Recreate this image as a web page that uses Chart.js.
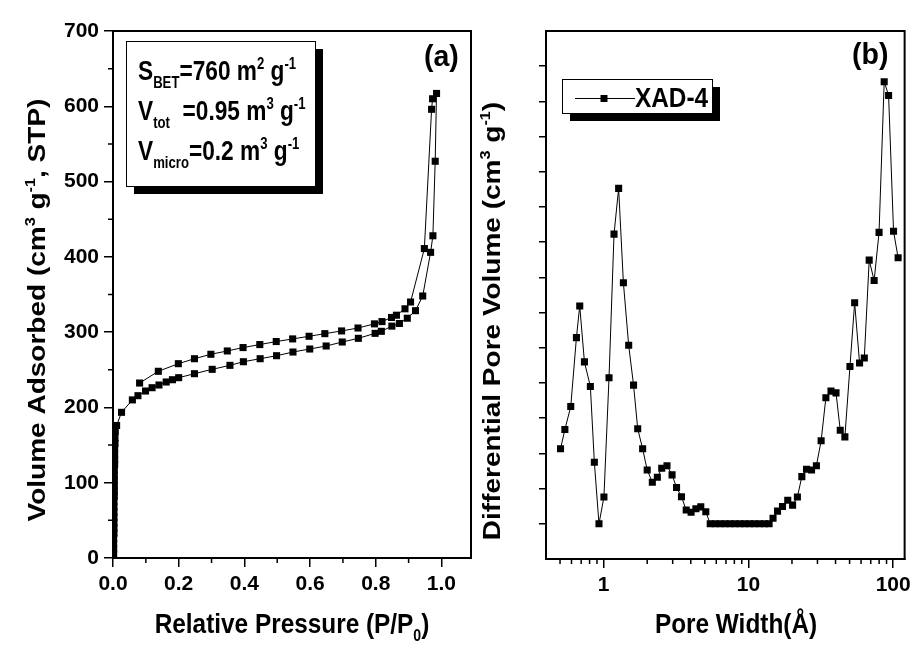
<!DOCTYPE html>
<html>
<head>
<meta charset="utf-8">
<script src="https://cdn.jsdelivr.net/npm/chart.js@4.4.1/dist/chart.umd.min.js"></script>
<style>
html,body{margin:0;background:#fff;}
#wrap{position:relative;width:916px;height:646px;overflow:hidden;background:#fff;}
canvas{position:absolute;top:0;}
</style>
</head>
<body>
<div id="wrap">
  <canvas id="iso" width="490" height="646" style="left:0"></canvas>
  <canvas id="psd" width="451" height="646" style="left:465px"></canvas>
</div>
<script>
// (a) изотерма: ветвь адсорбции
const adsP = [0.002,0.002,0.002,0.002,0.003,0.003,0.003,0.003,0.003,0.003,0.003,0.004,0.004,0.004,0.004,0.004,0.004,0.005,0.005,0.005,0.005,0.006,0.006,0.007,0.011,
  0.026,0.059,0.076,0.099,0.119,0.140,0.162,0.181,0.200,0.248,0.302,0.356,0.397,0.448,0.498,0.548,0.599,0.649,0.698,0.747,0.798,0.817,0.849,0.872,0.896,0.921,0.943,0.967,0.974,0.981,0.985];
const adsV = [6,12,19,26,33,40,47,54,61,68,75,82,89,96,103,110,117,124,131,138,145,152,159,168,176,
  193.5,210,215.6,221.8,226.2,229.8,233.8,236.8,239.5,244.8,250.6,255.9,260.7,264.7,268.7,273.6,277.6,281.6,286.9,291.8,298.4,301.1,308,311.5,318.5,328.5,348,406,428,527,617];
// ветвь десорбции
const desP = [0.985,0.973,0.970,0.948,0.906,0.889,0.863,0.848,0.819,0.796,0.746,0.696,0.645,0.597,0.547,0.497,0.447,0.396,0.348,0.298,0.248,0.199,0.138,0.081];
const desV = [617,610,596,411,340,331,322.5,319.5,314,311,305.5,301.6,298,294.5,291,287.5,283.5,279.5,275,270.6,264.7,258.1,248,232.4];

// (b) распределение пор по размерам
const poreW = [0.504,0.54,0.593,0.649,0.684,0.737,0.81,0.863,0.929,1.005,1.09,1.18,1.27,1.37,1.49,1.61,1.72,1.86,2.0,2.17,2.35,2.52,2.74,2.97,3.19,3.45,3.72,4.02,4.34,4.69,5.08,
  5.45,5.9,6.38,6.9,7.46,8.07,8.73,9.44,10.2,11.0,11.9,12.9,13.9,
  14.8,15.9,17.2,18.7,20.2,21.8,23.4,25.2,27.3,29.5,31.8,34.3,37.2,40.3,43.1,46.4,50.3,54.2,58.6,63.2,68.3,73.9,79.9,86.7,93.0,100.6,108.2];
const poreDV = [3.13,3.68,4.33,6.29,7.19,5.6,4.9,2.75,1.0,1.76,5.15,9.23,10.53,7.85,6.07,4.94,3.7,3.13,2.53,2.18,2.32,2.58,2.65,2.39,2.03,1.77,1.39,1.33,1.43,1.48,1.34,
  1.0,1.0,1.0,1.0,1.0,1.0,1.0,1.0,1.0,1.0,1.0,1.0,1.0,
  1.16,1.36,1.49,1.67,1.53,1.76,2.34,2.55,2.53,2.65,3.36,4.58,4.77,4.72,3.66,3.47,5.47,7.28,5.57,5.71,8.49,7.91,9.28,13.56,13.17,9.31,8.56];

// деления осей
const isoXTicks = [0,0.2,0.4,0.6,0.8,1.0];
const isoXMinor = [0.1,0.3,0.5,0.7,0.9];
const isoYTicks = [0,100,200,300,400,500,600,700];
const isoYMinor = [50,150,250,350,450,550,650];
const psdXTicks = [1,10,100];
const psdXMinor = [0.5,0.6,0.7,0.8,0.9,2,3,4,5,6,7,8,9,20,30,40,50,60,70,80,90];
const psdYTicks = [1,2,3,4,5,6,7,8,9,10,11,12,13,14];

// подписи с индексами: [текст, 'sub'|'sup']
const boxLines = [
  [['S'],['BET','sub'],['=760 m'],['2','sup'],[' g'],['-1','sup']],
  [['V'],['tot','sub'],['  =0.95 m'],['3','sup'],[' g'],['-1','sup']],
  [['V'],['micro','sub'],['=0.2 m'],['3','sup'],[' g'],['-1','sup']]
];
const isoXTitle = [['Relative Pressure (P/P'],['0','sub'],[')']];
const isoYTitle = [['Volume Adsorbed (cm'],['3','sup'],[' g'],['-1','sup'],[', STP)']];
const psdXTitle = [['Pore Width(Å)']];
const psdYTitle = [['Differential Pore Volume (cm'],['3','sup'],[' g'],['-1','sup'],[')']];

const FONT = '"Liberation Sans", Arial, sans-serif';
const SQ = 0.87; // узкий шрифт

function rich(ctx, parts, x, y, o){
  const sz = o.size, small = sz*0.58;
  const fontOf = k => `bold ${k ? small : sz}px ${FONT}`;
  ctx.save();
  ctx.translate(x, y);
  if (o.rot) { ctx.rotate(-Math.PI/2); ctx.scale(1, SQ); }
  else ctx.scale(o.sx || SQ, 1);
  ctx.fillStyle = '#000';
  ctx.textBaseline = 'alphabetic';
  ctx.textAlign = 'left';
  let w = 0;
  parts.forEach(([t,k]) => { ctx.font = fontOf(k); w += ctx.measureText(t).width; });
  let cx = o.align === 'center' ? -w/2 : 0;
  parts.forEach(([t,k]) => {
    ctx.font = fontOf(k);
    const dy = k === 'sup' ? -sz*0.42 : k === 'sub' ? sz*0.3 : 0;
    ctx.fillText(t, cx, dy);
    cx += ctx.measureText(t).width;
  });
  ctx.restore();
}

function minorTicks(ctx, scale, vals, len){
  const a = scale.chart.chartArea;
  ctx.beginPath();
  vals.forEach(v => {
    const p = scale.getPixelForValue(v);
    if (scale.axis === 'x') { ctx.moveTo(p, a.bottom); ctx.lineTo(p, a.bottom + len); }
    else { ctx.moveTo(a.left, p); ctx.lineTo(a.left - len, p); }
  });
  ctx.stroke();
}

// рамка, мелкие засечки и подписи поверх графика
function decor(xMinor, yMinor, draw){
  return {
    id: 'decor',
    afterDraw(chart){
      const {ctx, chartArea: a, scales} = chart;
      ctx.save();
      ctx.strokeStyle = '#000';
      ctx.lineWidth = 2;
      ctx.beginPath();
      ctx.moveTo(a.left - 1, a.top); ctx.lineTo(a.right, a.top); ctx.lineTo(a.right, a.bottom + 1);
      ctx.stroke();
      ctx.lineWidth = 1.5;
      if (xMinor) minorTicks(ctx, scales.x, xMinor, 5);
      if (yMinor) minorTicks(ctx, scales.y, yMinor, 5);
      ctx.restore();
      draw(ctx);
    }
  };
}

function shadowBox(ctx, x1, y1, x2, y2, off){
  ctx.fillStyle = '#000';
  ctx.fillRect(x1 + off, y1 + off, x2 - x1, y2 - y1);
  ctx.fillStyle = '#fff';
  ctx.fillRect(x1, y1, x2 - x1, y2 - y1);
  ctx.strokeStyle = '#000';
  ctx.lineWidth = 1;
  ctx.strokeRect(x1 + 0.5, y1 + 0.5, x2 - x1, y2 - y1);
}

const tickFont = {family: FONT, size: 21, weight: 'bold'};
const series = (xs, ys, label) => ({
  label,
  data: xs.map((x, i) => ({x, y: ys[i]})),
  showLine: true,
  borderColor: '#000',
  borderWidth: 1,
  backgroundColor: '#000',
  pointStyle: 'rect',
  pointRadius: 5,
  pointBorderWidth: 0
});
const axis = (extra) => Object.assign({
  grid: {drawOnChartArea: false, color: '#000', lineWidth: 1.5, tickLength: 9},
  border: {display: true, color: '#000', width: 2}
}, extra);

Chart.defaults.animation = false;
Chart.defaults.color = '#000';

// (a)
new Chart(document.getElementById('iso'), {
  type: 'scatter',
  data: {datasets: [series(adsP, adsV, 'adsorption'), series(desP, desV, 'desorption')]},
  options: {
    responsive: false,
    devicePixelRatio: 1,
    layout: {autoPadding: false, padding: {top: 31, right: 19, left: 0, bottom: 0}},
    plugins: {legend: {display: false}, tooltip: {enabled: false}},
    scales: {
      x: axis({
        type: 'linear', min: 0, max: 1.09,
        afterBuildTicks: s => { s.ticks = isoXTicks.map(v => ({value: v})); },
        afterFit: s => { s.height = 646 - 558; },
        ticks: {font: tickFont, padding: 5, maxRotation: 0, autoSkip: false, callback: v => v.toFixed(1)}
      }),
      y: axis({
        type: 'linear', min: 0, max: 700,
        afterBuildTicks: s => { s.ticks = isoYTicks.map(v => ({value: v})); },
        afterFit: s => { s.width = 113; },
        ticks: {font: tickFont, padding: 5, autoSkip: false, callback: v => String(v)}
      })
    }
  },
  plugins: [decor(isoXMinor, isoYMinor, ctx => {
    shadowBox(ctx, 126, 41, 315, 186, 8);
    rich(ctx, boxLines[0], 138, 80, {size: 27, sx: 0.84});
    rich(ctx, boxLines[1], 138, 120, {size: 27, sx: 0.84});
    rich(ctx, boxLines[2], 138, 160, {size: 27, sx: 0.84});
    rich(ctx, [['(a)']], 424, 66, {size: 30, sx: 0.95});
    rich(ctx, isoXTitle, 292, 633, {size: 28, align: 'center'});
    rich(ctx, isoYTitle, 45, 310, {size: 28, align: 'center', rot: true});
  })]
});

// (b)
const OFF = 465;
new Chart(document.getElementById('psd'), {
  type: 'scatter',
  data: {datasets: [series(poreW, poreDV, 'XAD-4')]},
  options: {
    responsive: false,
    devicePixelRatio: 1,
    layout: {autoPadding: false, padding: {top: 31, right: 10, left: 0, bottom: 0}},
    plugins: {legend: {display: false}, tooltip: {enabled: false}},
    scales: {
      x: axis({
        type: 'logarithmic', min: 0.4, max: 120,
        afterBuildTicks: s => { s.ticks = psdXTicks.map(v => ({value: v})); },
        afterFit: s => { s.height = 646 - 559; },
        ticks: {font: tickFont, padding: 5, maxRotation: 0, autoSkip: false, callback: v => String(v)}
      }),
      y: axis({
        type: 'linear', min: 0, max: 15,
        afterBuildTicks: s => { s.ticks = psdYTicks.map(v => ({value: v})); },
        afterFit: s => { s.width = 546 - OFF; },
        grid: {drawOnChartArea: false, color: '#000', lineWidth: 1.5, tickLength: 7},
        ticks: {font: tickFont, padding: 0, autoSkip: false, callback: () => ''}
      })
    }
  },
  plugins: [decor(psdXMinor, null, ctx => {
    const ds = ctx.canvas && Chart.getChart(ctx.canvas).data.datasets[0];
    shadowBox(ctx, 562 - OFF, 79, 712 - OFF, 113, 8);
    ctx.strokeStyle = '#000';
    ctx.lineWidth = 1;
    ctx.beginPath();
    ctx.moveTo(575 - OFF, 98.5); ctx.lineTo(635 - OFF, 98.5);
    ctx.stroke();
    ctx.fillStyle = '#000';
    ctx.fillRect(604 - OFF - 3.5, 98.5 - 3.5, 7, 7);
    rich(ctx, [[ds.label]], 635 - OFF, 107, {size: 28});
    rich(ctx, [['(b)']], 852 - OFF, 64, {size: 30, sx: 0.95});
    rich(ctx, psdXTitle, 736 - OFF, 633, {size: 28, align: 'center'});
    rich(ctx, psdYTitle, 500 - OFF, 321, {size: 28, align: 'center', rot: true});
  })]
});
</script>
</body>
</html>
